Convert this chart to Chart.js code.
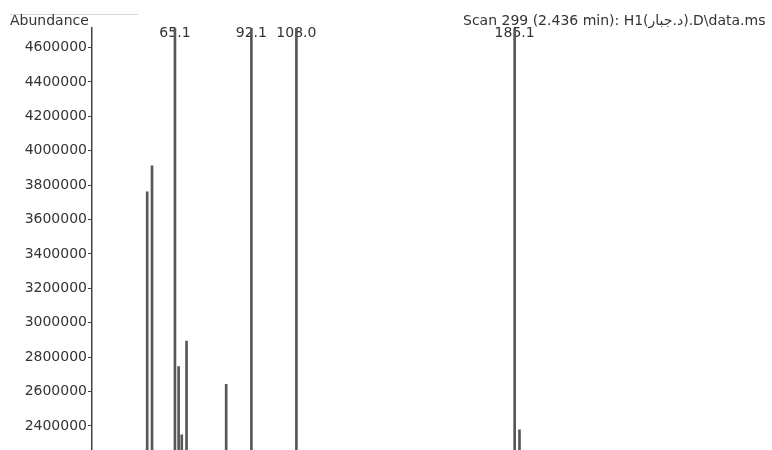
<!DOCTYPE html>
<html>
<head>
<meta charset="utf-8">
<script src="https://cdn.jsdelivr.net/npm/chart.js"></script>
<style>
  body { margin: 0; background: #fff; }
  canvas { display: block; }
</style>
</head>
<body>
<canvas id="spectrumChart" width="772" height="450"></canvas>
<script>
// m/z of each peak and its abundance (peaks above the frame are off-scale)
const mz = [55.3, 57.0, 65.1, 66.4, 67.5, 69.2, 83.2, 92.1, 108.0, 185.1, 186.8];
const abundance = [3762000, 3913000, 5300000, 2745000, 2348000, 2894000, 2642000, 5100000, 5000000, 9800000, 2377000];
const labeledPeaks = ['65.1', '92.1', '108.0', '185.1'];
const yTicks = [2400000, 2600000, 2800000, 3000000, 3200000, 3400000, 3600000, 3800000, 4000000, 4200000, 4400000, 4600000];
const titleText = 'Scan 299 (2.436 min): H1(د.جبار).D\\data.ms';
const yLabel = 'Abundance';

const FONT = '"DejaVu Sans", sans-serif';
const INK = '#333';

// Header text + peak labels
const spectrumText = {
    id: 'spectrumText',
    beforeDatasetsDraw(chart) {
        const ctx = chart.ctx;
        const x = chart.scales.x;
        const area = chart.chartArea;
        ctx.save();
        ctx.font = '14px ' + FONT;
        ctx.fillStyle = INK;
        ctx.textBaseline = 'middle';

        // faint scan artefact line at the top left
        ctx.strokeStyle = '#d6d6d6';
        ctx.lineWidth = 1;
        ctx.beginPath();
        ctx.moveTo(10, 14.5);
        ctx.lineTo(138, 14.5);
        ctx.stroke();

        ctx.textAlign = 'left';
        ctx.fillText(yLabel, 10, 21);
        ctx.fillText(titleText, 463, 21);

        ctx.textAlign = 'center';
        labeledPeaks.forEach(lbl => {
            ctx.fillText(lbl, x.getPixelForValue(parseFloat(lbl)), area.top + 5);
        });
        ctx.restore();
    }
};

function initializeSpectrumChart() {
    const ctx = document.getElementById('spectrumChart').getContext('2d');

    new Chart(ctx, {
        type: 'bar',
        data: {
            datasets: [{
                data: mz.map((m, i) => ({ x: m, y: abundance[i] })),
                backgroundColor: '#575757',
                borderWidth: 0,
                barThickness: 2
            }]
        },
        options: {
            responsive: false,
            animation: false,
            devicePixelRatio: 1,
            layout: { padding: { top: 28, left: 0, right: 0, bottom: 0 } },
            plugins: {
                legend: { display: false },
                tooltip: { enabled: false }
            },
            scales: {
                x: {
                    type: 'linear',
                    min: 35.8,
                    max: 276,
                    offset: false,
                    display: false
                },
                y: {
                    min: 2260000,
                    max: 4714000,
                    afterBuildTicks: axis => {
                        axis.ticks = yTicks.map(v => ({ value: v }));
                    },
                    afterFit: axis => {
                        axis.width = 92;
                        axis.paddingTop = 0;
                        axis.paddingBottom = 0;
                    },
                    border: { display: true, color: '#444', width: 1.5 },
                    grid: {
                        drawOnChartArea: false,
                        drawTicks: true,
                        tickLength: 4,
                        color: '#444',
                        lineWidth: 1
                    },
                    ticks: {
                        padding: 1,
                        color: INK,
                        font: { family: FONT, size: 14 },
                        callback: v => String(v)
                    }
                }
            }
        },
        plugins: [spectrumText]
    });
}

document.addEventListener('DOMContentLoaded', initializeSpectrumChart);
</script>
</body>
</html>
